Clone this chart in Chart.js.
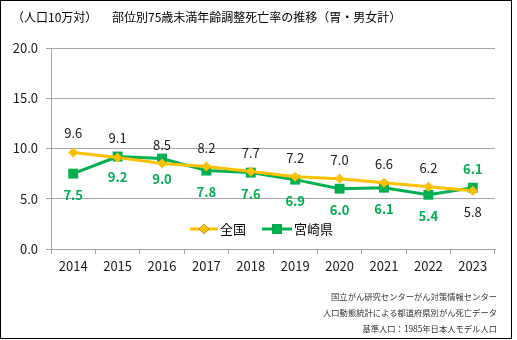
<!DOCTYPE html>
<html>
<head>
<meta charset="utf-8">
<script src="https://cdn.jsdelivr.net/npm/chart.js@4"></script>
<style>
  body { margin: 0; background: #fff; }
  #wrap { position: relative; width: 517px; height: 340px; }
  #frame { position: absolute; left: 0; top: 0; width: 510px; height: 337px; border: 1px solid #000; pointer-events: none; }
  .txt { position: absolute; font-family: "Noto Sans CJK JP", sans-serif; color: #000; white-space: nowrap; }
  #unit { left: 12px; top: 8px; font-size: 12px; }
  #title { left: 112px; top: 8px; font-size: 12px; }
  #src { right: 20px; top: 288px; font-size: 8.3px; line-height: 16px; text-align: right; color: #333; }
</style>
</head>
<body>
<div id="wrap">
  <canvas id="grafico" width="517" height="340"></canvas>
  <div class="txt" id="unit">（人口10万対）</div>
  <div class="txt" id="title">部位別75歳未満年齢調整死亡率の推移（胃・男女計）</div>
  <div class="txt" id="src">国立がん研究センターがん対策情報センター<br>人口動態統計による都道府県別がん死亡データ<br>基準人口：1985年日本人モデル人口</div>
  <div id="frame"></div>
</div>
<script>
// dados
var anos = ['2014', '2015', '2016', '2017', '2018', '2019', '2020', '2021', '2022', '2023'];
var zenkoku = [9.6, 9.1, 8.5, 8.2, 7.7, 7.2, 7.0, 6.6, 6.2, 5.8];
var miyazaki = [7.5, 9.2, 9.0, 7.8, 7.6, 6.9, 6.0, 6.1, 5.4, 6.1];
var yTicks = [0, 5, 10, 15, 20];

var laranja = '#FFC000';
var verde = '#00B050';
var fonte = '"Noto Sans CJK JP", sans-serif';

// rótulos de valor e legenda desenhados à mão
var rotulos = {
    id: 'rotulos',
    afterDatasetsDraw: function (chart) {
        var ctx = chart.ctx;
        ctx.save();
        ctx.textAlign = 'center';
        ctx.textBaseline = 'middle';
        chart.data.datasets.forEach(function (ds, i) {
            var meta = chart.getDatasetMeta(i);
            meta.data.forEach(function (pt, j) {
                var acima = (i === 0);
                if (j === meta.data.length - 1) acima = !acima;
                ctx.font = (i === 1 ? 'bold ' : '') + '13px ' + fonte;
                ctx.fillStyle = i === 1 ? verde : '#1a1a1a';
                var y = acima ? pt.y - 19 : pt.y + 21;
                ctx.fillText(ds.data[j].toFixed(1), pt.x, y);
            });
        });
        ctx.restore();
    },
    afterDraw: function (chart) {
        var ctx = chart.ctx;
        var y = 229;
        var itens = [{ x: 190, w: 28 }, { x: 262, w: 30 }];
        ctx.save();
        chart.data.datasets.forEach(function (ds, i) {
            var it = itens[i];
            ctx.strokeStyle = ds.borderColor;
            ctx.lineWidth = 3;
            ctx.beginPath();
            ctx.moveTo(it.x, y);
            ctx.lineTo(it.x + it.w, y);
            ctx.stroke();
            Chart.helpers.drawPoint(ctx, {
                pointStyle: ds.pointStyle,
                radius: ds.pointRadius,
                borderWidth: 0
            }, it.x + it.w / 2, y);
            ctx.fillStyle = ds.pointBackgroundColor;
            ctx.fill();
            ctx.fillStyle = '#000';
            ctx.font = '13px ' + fonte;
            ctx.textAlign = 'left';
            ctx.textBaseline = 'middle';
            ctx.fillText(ds.label, it.x + it.w + 2, y);
        });
        ctx.restore();
    }
};

var config = {
    type: 'line',
    data: {
        labels: anos,
        datasets: [{
            label: '全国',
            data: zenkoku,
            borderColor: laranja,
            backgroundColor: laranja,
            pointBackgroundColor: laranja,
            pointBorderColor: laranja,
            borderWidth: 3,
            pointStyle: 'rectRot',
            pointRadius: 5,
            pointBorderWidth: 0
        }, {
            label: '宮崎県',
            data: miyazaki,
            borderColor: verde,
            backgroundColor: verde,
            pointBackgroundColor: verde,
            pointBorderColor: verde,
            borderWidth: 3,
            pointStyle: 'rect',
            pointRadius: 7,
            pointBorderWidth: 0
        }]
    },
    options: {
        responsive: false,
        animation: false,
        layout: { padding: { left: 0, right: 22, top: 48, bottom: 0 } },
        plugins: {
            legend: { display: false },
            title: { display: false },
            tooltip: { enabled: false }
        },
        scales: {
            x: {
                offset: true,
                grid: { offset: true, drawOnChartArea: false, drawTicks: true, tickLength: 5, color: '#a0a0a0' },
                border: { color: '#a0a0a0' },
                ticks: { color: '#1a1a1a', font: { family: fonte, size: 13 }, padding: 4, maxRotation: 0 },
                afterFit: function (s) { s.height = 91; }
            },
            y: {
                min: 0,
                max: 20,
                afterBuildTicks: function (s) { s.ticks = yTicks.map(function (v) { return { value: v }; }); },
                grid: { color: '#a6a6a6', tickLength: 5 },
                border: { color: '#a0a0a0' },
                ticks: {
                    color: '#1a1a1a',
                    font: { family: fonte, size: 13 },
                    padding: 8,
                    callback: function (v) { return Number(v).toFixed(1); }
                },
                afterFit: function (s) { s.width = 51; }
            }
        }
    },
    plugins: [rotulos]
};

new Chart(document.getElementById('grafico').getContext('2d'), config);
</script>
</body>
</html>
